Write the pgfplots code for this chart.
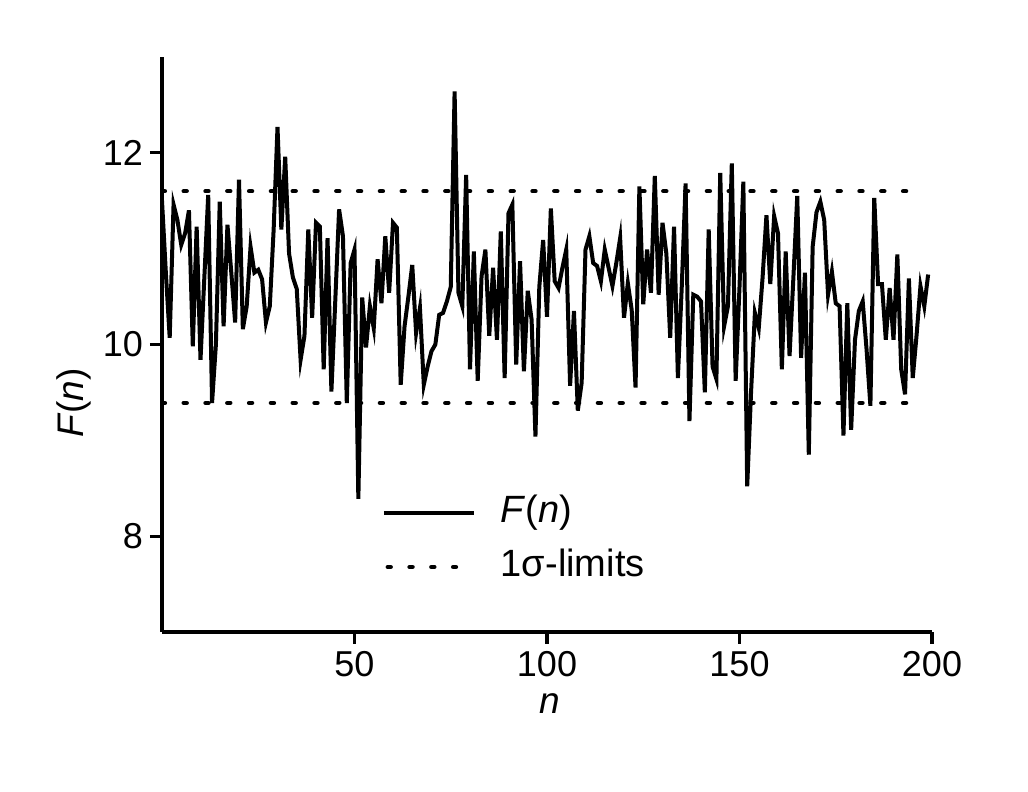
\documentclass[border=0pt]{standalone}
\usepackage{fontspec}
\setmainfont{Liberation Sans}
\usepackage{pgfplots}
\pgfplotsset{compat=1.18}
\usepackage{pgfplotstable}
\pgfplotsset{
  solidleg/.style={legend image code/.code={\draw[##1] (0pt,0pt) -- (45pt,0pt);}},
  dotleg/.style={legend image code/.code={\draw[##1] (2pt,0pt) -- (36pt,0pt);}}}

\pgfplotstableread{
n F
0 11.5
1 10.75
2 10.07
3 11.46
4 11.3
5 11.04
6 11.16
7 11.4
8 9.98
9 11.23
10 9.84
11 10.7
12 11.56
13 9.39
14 10.0
15 11.49
16 10.19
17 11.25
18 10.75
19 10.23
20 11.72
21 10.16
22 10.4
23 11.02
24 10.75
25 10.78
26 10.68
27 10.23
28 10.4
29 11.2
30 12.27
31 11.2
32 11.96
33 10.95
34 10.7
35 10.58
36 9.84
37 10.09
38 11.2
39 10.28
40 11.27
41 11.23
42 9.74
43 11.11
44 9.51
45 10.45
46 11.41
47 11.13
48 9.39
49 10.85
50 10.99
51 8.39
52 10.49
53 9.97
54 10.4
55 10.17
56 10.89
57 10.43
58 11.13
59 10.54
60 11.27
61 11.22
62 9.58
63 10.19
64 10.5
65 10.83
66 10.12
67 10.38
68 9.58
69 9.77
70 9.93
71 10.0
72 10.31
73 10.33
74 10.45
75 10.6
76 12.64
77 10.54
78 10.4
79 11.77
80 9.74
81 10.97
82 9.62
83 10.71
84 10.99
85 10.09
86 10.8
87 10.05
88 11.18
89 9.65
90 11.37
91 11.46
92 9.79
93 10.87
94 9.72
95 10.56
96 10.26
97 9.04
98 10.6
99 11.09
100 10.29
101 11.42
102 10.66
103 10.59
104 10.8
105 10.99
106 9.57
107 10.35
108 9.31
109 9.6
110 10.99
111 11.13
112 10.85
113 10.82
114 10.66
115 10.99
116 10.8
117 10.61
118 10.85
119 11.11
120 10.28
121 10.64
122 10.36
123 9.55
124 11.65
125 10.42
126 10.99
127 10.54
128 11.76
129 10.52
130 11.27
131 10.95
132 10.07
133 11.23
134 9.65
135 10.6
136 11.68
137 9.2
138 10.52
139 10.5
140 10.45
141 9.5
142 11.2
143 9.77
144 9.64
145 11.79
146 10.19
147 10.4
148 11.89
149 9.62
150 10.6
151 11.7
152 8.52
153 9.5
154 10.33
155 10.17
156 10.7
157 11.35
158 10.63
159 11.34
160 11.16
161 9.74
162 10.97
163 9.88
164 10.7
165 11.55
166 9.86
167 10.75
168 8.85
169 11.02
170 11.38
171 11.49
172 11.3
173 10.52
174 10.76
175 10.43
176 10.4
177 9.05
178 10.43
179 9.11
180 10.05
181 10.35
182 10.45
183 9.95
184 9.36
185 11.53
186 10.63
187 10.63
188 10.05
189 10.59
190 10.05
191 10.94
192 9.74
193 9.48
194 10.69
195 9.65
196 10.1
197 10.61
198 10.4
199 10.73
}\datatable

\begin{document}
\begin{tikzpicture}
\useasboundingbox (-81pt,-80pt) rectangle (433pt,316pt);
\begin{axis}[
  at={(0pt,0pt)}, anchor=south west,
  scale only axis,
  width=385pt, height=287.5pt,
  xmin=0, xmax=200, ymin=7, ymax=13,
  axis lines*=left,
  axis line style={line width=1.8pt},
  xtick={50,100,150,200},
  ytick={8,10,12},
  tick align=outside,
  major tick length=6pt,
  tick style={line width=1.6pt, black},
  /pgf/number format/assume math mode=true,
  ticklabel style={font=\fontsize{18}{21}\selectfont},
  xlabel={\textit{n}},
  ylabel={\textit{F}(\textit{n})},
  label style={font=\fontsize{18.5}{22}\selectfont},
  xlabel style={at={(axis description cs:0.503,-0.125)}, anchor=center},
  ylabel style={at={(axis description cs:-0.115,0.398)}, anchor=center},
  legend cell align=left,
  legend style={draw=none, fill=none, inner sep=0pt,
    at={(axis description cs:0.285,0.239)}, anchor=north west,
    font=\fontsize{19}{22}\selectfont, row sep=9pt, column sep=12.5pt,
    nodes={inner sep=0pt, text height=14pt, text depth=4pt}},
]
\addplot[black, line width=2pt, solidleg] table[x=n, y=F] {\datatable};
\addlegendentry{\textit{F}(\textit{n})}
\addplot[black, line width=2.3pt, line cap=round, dash pattern=on 1.4pt off 9.5pt, forget plot] coordinates {(0,11.6) (198,11.6)};
\addplot[black, line width=2.3pt, line cap=round, dash pattern=on 1.4pt off 9.5pt, dotleg] coordinates {(0,9.39) (196,9.39)};
\addlegendentry{1σ-limits}
\end{axis}
\end{tikzpicture}
\end{document}
